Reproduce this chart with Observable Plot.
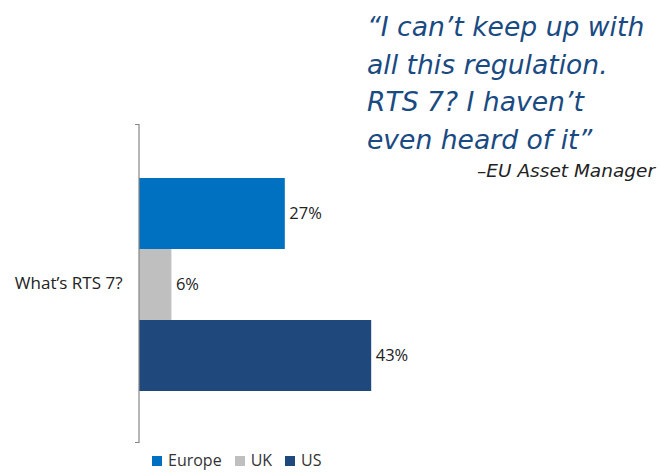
<!DOCTYPE html>
<html>
<head>
<meta charset="utf-8">
<script src="https://cdn.jsdelivr.net/npm/d3@7"></script>
<script src="https://cdn.jsdelivr.net/npm/@observablehq/plot@0.6"></script>
<style>
  html, body { margin: 0; padding: 0; background: #fff; }
  #wrap { position: relative; width: 660px; height: 472px; overflow: hidden; }
  #quote { position: absolute; left: 367px; top: 8px; font-family: "DejaVu Sans", sans-serif; font-style: italic; font-size: 26.6px; line-height: 37.5px; color: #1A4A82; white-space: nowrap; }
  #attrib { position: absolute; right: 5px; top: 160px; font-family: "DejaVu Sans", sans-serif; font-style: italic; font-size: 18.5px; line-height: 22px; color: #222; white-space: nowrap; }
  #legend { position: absolute; left: 152px; top: 452px; display: flex; align-items: center; font-family: "Open Sans", sans-serif; font-size: 16px; color: #333; line-height: 17px; }
  #legend .item { display: flex; align-items: center; margin-right: 13px; }
  #legend .sw { width: 10px; height: 10px; margin-right: 6px; }
  #chart { position: absolute; left: 0; top: 0; }
</style>
</head>
<body>
<div id="wrap">
  <div id="chart"></div>
  <div id="quote"></div>
  <div id="attrib"></div>
  <div id="legend"></div>
</div>
<script>
const categories = ["What\u2019s RTS 7?"];
const series = ["Europe", "UK", "US"];
const values = [27, 6, 43];
const colors = ["#0070C0", "#BFBFBF", "#1F497D"];
const quoteLines = ["\u201CI can\u2019t keep up with", "all this regulation.", "RTS 7? I haven\u2019t", "even heard of it\u201D"];
const attribution = "\u2013EU Asset Manager";

const data = series.map((s, i) => ({series: s, value: values[i], category: categories[0]}));

const endTicks = (index, scales, values, dims) => {
  const g = d3.create("svg:g");
  const x0 = scales.x(0);
  const top = dims.marginTop, bot = dims.height - dims.marginBottom;
  g.append("path")
    .attr("d", `M${x0 - 4},${top + 0.5}H${x0}V${bot - 0.5}H${x0 - 4}`)
    .attr("fill", "none").attr("stroke", "#868686").attr("stroke-width", 1.2);
  return g.node();
};

const chart = Plot.plot({
  width: 660,
  height: 452,
  marginLeft: 139,
  marginRight: 251,
  marginTop: 124,
  marginBottom: 9,
  x: {domain: [0, 50], axis: null},
  y: {domain: series, range: [177, 392], padding: 0, axis: null},
  color: {domain: series, range: colors},
  style: {fontFamily: "Open Sans, sans-serif", fontSize: "16px", color: "#222"},
  marks: [
    Plot.barX(data, {x: "value", y: "series", fill: "series", insetTop: 0, insetBottom: 0}),
    Plot.text(data, {x: "value", y: "series", text: d => d.value + "%", textAnchor: "start", dx: 4, fill: "#222", fontSize: 16.5}),
    Plot.text(categories, {frameAnchor: "left", dx: -17, textAnchor: "end", text: d => d, fill: "#222", fontSize: 17}),
    endTicks
  ]
});
document.getElementById("chart").appendChild(chart);

document.getElementById("quote").innerHTML = quoteLines.map(l => `<div>${l}</div>`).join("");
document.getElementById("attrib").textContent = attribution;
const leg = document.getElementById("legend");
series.forEach((s, i) => {
  const it = document.createElement("div");
  it.className = "item";
  it.innerHTML = `<span class="sw" style="background:${colors[i]}"></span><span>${s}</span>`;
  leg.appendChild(it);
});
</script>
</body>
</html>
